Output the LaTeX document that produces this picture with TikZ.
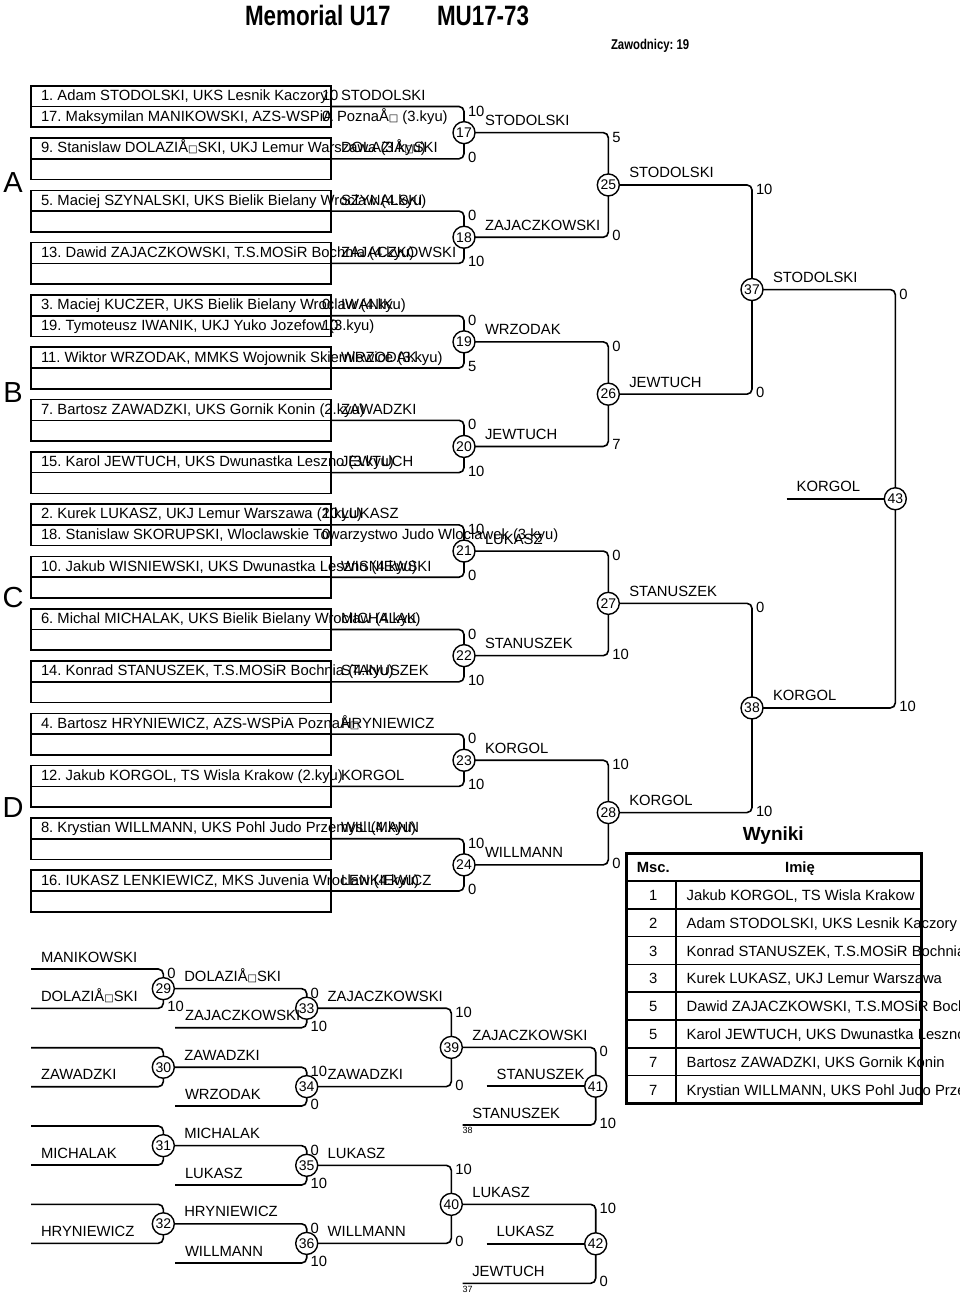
\documentclass[tikz,border=0pt]{standalone}
\usepackage{fontspec}
\setmainfont{Liberation Sans}
\newfontfamily\narrowfont{Liberation Sans}[FakeStretch=0.8]
\newfontfamily\dejavu{DejaVu Sans}
\usetikzlibrary{calc}
\frenchspacing
\newcommand\bx{{\dejavu\fontsize{10}{10}\selectfont □}}
\newcommand\fs{\fontsize{14.8}{17}\selectfont\frenchspacing}
\newcommand\byepair[3]{%
  \pgfmathsetmacro\yy{85.7+52.3*#1}
  \draw[boxl] (31,\yy) rectangle (331,\yy+20.8);
  \draw[boxl] (31,\yy+20.8) rectangle (331,\yy+41.5);
  \coordinate (p#1) at (331,\yy+20.8);
  \node[txt] (ea#1) at (41,\yy+14.8) {#2};
  \node[txt] (ew#1) at (341,\yy+14.8) {#3};
}
\newcommand\prepair[6]{%
  \byepair{#1}{#2}{#4}
  \node[txt] (eb#1) at (41,\yy+35.6) {#3};
  \node[txt] (sa#1) at (322,\yy+14.8) {#5};
  \node[txt] (sb#1) at (322,\yy+35.6) {#6};
}
\newcommand\mt[7]{%
  \node[mc] (m#1) at (#2,#3) {#1};
  \node[txt] (s#1a) at (#2+4,#4+9.5) {#6};
  \node[txt] (s#1b) at (#2+4,#5+3.5) {#7};
}
\newcommand\mtn[3]{\node[mc] (m#1) at (#2,#3) {#1};}
\newcommand\wl[2]{\node[txt] (w#1) at ($(m#1)+(21,-7)$) {#2};}
\begin{document}
\begin{tikzpicture}[x=1pt,y=-1pt,
  every node/.style={inner sep=0pt, outer sep=0pt},
  txt/.style={anchor=base west, font=\fs},
  mc/.style={circle, draw, line width=1.4pt, minimum size=22pt, inner sep=0pt, fill=white, font=\fontsize{14}{14}\selectfont},
  bl/.style={line width=1.6pt, rounded corners=5pt},
  boxl/.style={line width=1.6pt},
  tiny/.style={anchor=north west, font=\fontsize{9}{9}\selectfont},
  pool/.style={font=\fontsize{29}{30}\selectfont},
]
\useasboundingbox (0,0) rectangle (960,1293);
\clip (0,0) rectangle (960,1293);

% header
\node[anchor=base west, font=\narrowfont\bfseries\fontsize{28}{30}\selectfont] (title) at (245,25) {Memorial U17};
\node[anchor=base west, font=\narrowfont\bfseries\fontsize{28}{30}\selectfont] (code) at (437,25) {MU17-73};
\node[anchor=base west, font=\narrowfont\bfseries\fontsize{14.2}{16}\selectfont] (zaw) at (611,49.3) {Zawodnicy: 19};

% pool letters
\node[pool] (lA) at (13,183) {A};
\node[pool] (lB) at (13,393) {B};
\node[pool] (lC) at (13,598) {C};
\node[pool] (lD) at (13,808) {D};

% entries
\prepair{0}{1. Adam STODOLSKI, UKS Lesnik Kaczory}{17. Maksymilan MANIKOWSKI, AZS-WSPiA PoznaÅ\bx\ (3.kyu)}{STODOLSKI}{10}{0}
\byepair{1}{9. Stanislaw DOLAZIÅ\bx SKI, UKJ Lemur Warszawa (3.kyu)}{DOLAZIÅ\bx SKI}
\byepair{2}{5. Maciej SZYNALSKI, UKS Bielik Bielany Wroclaw (4.kyu)}{SZYNALSKI}
\byepair{3}{13. Dawid ZAJACZKOWSKI, T.S.MOSiR Bochnia (4.kyu)}{ZAJACZKOWSKI}
\prepair{4}{3. Maciej KUCZER, UKS Bielik Bielany Wroclaw (4.kyu)}{19. Tymoteusz IWANIK, UKJ Yuko Jozefow (3.kyu)}{IWANIK}{0}{10}
\byepair{5}{11. Wiktor WRZODAK, MMKS Wojownik Skierniewice (3.kyu)}{WRZODAK}
\byepair{6}{7. Bartosz ZAWADZKI, UKS Gornik Konin (2.kyu)}{ZAWADZKI}
\byepair{7}{15. Karol JEWTUCH, UKS Dwunastka Leszno (3.kyu)}{JEWTUCH}
\prepair{8}{2. Kurek LUKASZ, UKJ Lemur Warszawa (2.kyu)}{18. Stanislaw SKORUPSKI, Wloclawskie Towarzystwo Judo Wloclawek (3.kyu)}{LUKASZ}{10}{0}
\byepair{9}{10. Jakub WISNIEWSKI, UKS Dwunastka Leszno (4.kyu)}{WISNIEWSKI}
\byepair{10}{6. Michal MICHALAK, UKS Bielik Bielany Wroclaw (4.kyu)}{MICHALAK}
\byepair{11}{14. Konrad STANUSZEK, T.S.MOSiR Bochnia (4.kyu)}{STANUSZEK}
\byepair{12}{4. Bartosz HRYNIEWICZ, AZS-WSPiA PoznaÅ\bx}{HRYNIEWICZ}
\byepair{13}{12. Jakub KORGOL, TS Wisla Krakow (2.kyu)}{KORGOL}
\byepair{14}{8. Krystian WILLMANN, UKS Pohl Judo Przemysl (4.kyu)}{WILLMANN}
\byepair{15}{16. IUKASZ LENKIEWICZ, MKS Juvenia Wroclaw (4.kyu)}{LENKIEWICZ}

% main bracket matches
\mt{17}{464}{132.65}{106.5}{158.8}{10}{0}
\mt{18}{464}{237.25}{211.1}{263.4}{0}{10}
\mt{19}{464}{341.85}{315.7}{368.0}{0}{5}
\mt{20}{464}{446.45}{420.3}{472.6}{0}{10}
\mt{21}{464}{551.05}{524.9}{577.2}{10}{0}
\mt{22}{464}{655.65}{629.5}{681.8}{0}{10}
\mt{23}{464}{760.25}{734.1}{786.4}{0}{10}
\mt{24}{464}{864.85}{838.7}{891.0}{10}{0}
\mt{25}{608.3}{184.95}{132.65}{237.25}{5}{0}
\mt{26}{608.3}{394.15}{341.85}{446.45}{0}{7}
\mt{27}{608.3}{603.35}{551.05}{655.65}{0}{10}
\mt{28}{608.3}{812.55}{760.25}{864.85}{10}{0}
\mt{37}{752}{289.55}{184.95}{394.15}{10}{0}
\mt{38}{752}{707.95}{603.35}{812.55}{0}{10}
\mt{43}{895.3}{498.75}{289.55}{707.95}{0}{10}

\foreach \k/\m in {0/17,1/17,2/18,3/18,4/19,5/19,6/20,7/20,8/21,9/21,10/22,11/22,12/23,13/23,14/24,15/24}
  {\draw[bl] (p\k) -| (m\m);}
\foreach \a/\b in {17/25,18/25,19/26,20/26,21/27,22/27,23/28,24/28,25/37,26/37,27/38,28/38,37/43,38/43}
  {\draw[bl] (m\a) -| (m\b);}

\wl{17}{STODOLSKI}
\wl{18}{ZAJACZKOWSKI}
\wl{19}{WRZODAK}
\wl{20}{JEWTUCH}
\wl{21}{LUKASZ}
\wl{22}{STANUSZEK}
\wl{23}{KORGOL}
\wl{24}{WILLMANN}
\wl{25}{STODOLSKI}
\wl{26}{JEWTUCH}
\wl{27}{STANUSZEK}
\wl{28}{KORGOL}
\wl{37}{STODOLSKI}
\wl{38}{KORGOL}

\coordinate (fk) at (786.7,498.75);
\draw[bl] (fk) -- (m43);
\node[txt] (fkl) at (796.7,491.75) {KORGOL};

% repechage
\coordinate (r1) at (31,969);
\coordinate (r2) at (31,1008.3);
\coordinate (r3) at (31,1047.7);
\coordinate (r4) at (31,1086.7);
\coordinate (r5) at (31,1126);
\coordinate (r6) at (31,1165);
\coordinate (r7) at (31,1204.3);
\coordinate (r8) at (31,1243.3);
\mt{29}{163.3}{988.65}{969}{1008.3}{0}{10}
\mtn{30}{163.3}{1067.2}
\mtn{31}{163.3}{1145.65}
\mtn{32}{163.3}{1223.8}
\coordinate (q1) at (175,1027.7);
\coordinate (q2) at (175,1106);
\coordinate (q3) at (175,1185);
\coordinate (q4) at (175,1263);
\mt{33}{306.7}{1008.2}{988.65}{1027.7}{0}{10}
\mt{34}{306.7}{1086.6}{1067.2}{1106}{10}{0}
\mt{35}{306.7}{1165.3}{1145.65}{1185}{0}{10}
\mt{36}{306.7}{1243.4}{1223.8}{1263}{0}{10}
\mt{39}{451.3}{1047.4}{1008.2}{1086.6}{10}{0}
\mt{40}{451.3}{1204.35}{1165.3}{1243.4}{10}{0}
\coordinate (q5) at (462.7,1125);
\coordinate (q6) at (486.7,1086.2);
\coordinate (q7) at (462.7,1283.3);
\coordinate (q8) at (486.7,1243.8);
\mt{41}{595.7}{1086.2}{1047.4}{1125}{0}{10}
\mt{42}{595.7}{1243.8}{1204.35}{1283.3}{10}{0}

\foreach \r/\m in {r1/29,r2/29,r3/30,r4/30,r5/31,r6/31,r7/32,r8/32,q1/33,q2/34,q3/35,q4/36,q5/41,q7/42}
  {\draw[bl] (\r) -| (m\m);}
\foreach \a/\b in {29/33,30/34,31/35,32/36,33/39,34/39,35/40,36/40,39/41,40/42}
  {\draw[bl] (m\a) -| (m\b);}
\draw[bl] (q6) -- (m41);
\draw[bl] (q8) -- (m42);

\node[txt] (l1) at (41,962) {MANIKOWSKI};
\node[txt] (l2) at (41,1001.3) {DOLAZIÅ\bx SKI};
\node[txt] (l4) at (41,1079.7) {ZAWADZKI};
\node[txt] (l6) at (41,1158) {MICHALAK};
\node[txt] (l8) at (41,1236.3) {HRYNIEWICZ};
\wl{29}{DOLAZIÅ\bx SKI}
\wl{30}{ZAWADZKI}
\wl{31}{MICHALAK}
\wl{32}{HRYNIEWICZ}
\node[txt] (lq1) at (185,1020.7) {ZAJACZKOWSKI};
\node[txt] (lq2) at (185,1099) {WRZODAK};
\node[txt] (lq3) at (185,1178) {LUKASZ};
\node[txt] (lq4) at (185,1256) {WILLMANN};
\wl{33}{ZAJACZKOWSKI}
\wl{34}{ZAWADZKI}
\wl{35}{LUKASZ}
\wl{36}{WILLMANN}
\wl{39}{ZAJACZKOWSKI}
\wl{40}{LUKASZ}
\node[txt] (lq5) at (472.3,1118) {STANUSZEK};
\node[txt] (lq6) at (496.7,1079.2) {STANUSZEK};
\node[txt] (lq7) at (472.3,1276.3) {JEWTUCH};
\node[txt] (lq8) at (496.7,1236.8) {LUKASZ};
\node[tiny] (n38) at (462.7,1127.5) {38};
\node[tiny] (n37) at (462.7,1285.8) {37};

% results table
\node[anchor=base, font=\bfseries\fontsize{19}{21}\selectfont] (wyn) at (773.3,840.7) {Wyniki};
\node[anchor=base, font=\bfseries\fs] (hm) at (653.3,872.7) {Msc.};
\node[anchor=base, font=\bfseries\fs] (hi) at (800,872.7) {Imię};
\foreach \i/\n/\nm in {1/1/{Jakub KORGOL, TS Wisla Krakow},
  2/2/{Adam STODOLSKI, UKS Lesnik Kaczory},
  3/3/{Konrad STANUSZEK, T.S.MOSiR Bochnia},
  4/3/{Kurek LUKASZ, UKJ Lemur Warszawa},
  5/5/{Dawid ZAJACZKOWSKI, T.S.MOSiR Bochnia},
  6/5/{Karol JEWTUCH, UKS Dwunastka Leszno},
  7/7/{Bartosz ZAWADZKI, UKS Gornik Konin},
  8/7/{Krystian WILLMANN, UKS Pohl Judo Przemysl}}{
  \pgfmathsetmacro\ry{881+27.8*(\i-0.5)+5.5}
  \node[anchor=base, font=\fs] (rn\i) at (653.3,\ry) {\n};
  \node[txt] (rt\i) at (686.7,\ry) {\nm};
}
\foreach \i in {0,...,7}{
  \draw[line width=1.5pt] (626.7,881+27.8*\i) -- (921.7,881+27.8*\i);
}
\draw[line width=1.5pt] (676,881) -- (676,1103.4);
\draw[line width=3pt] (626.7,853.3) rectangle (921.7,1103.4);
\end{tikzpicture}
\end{document}
